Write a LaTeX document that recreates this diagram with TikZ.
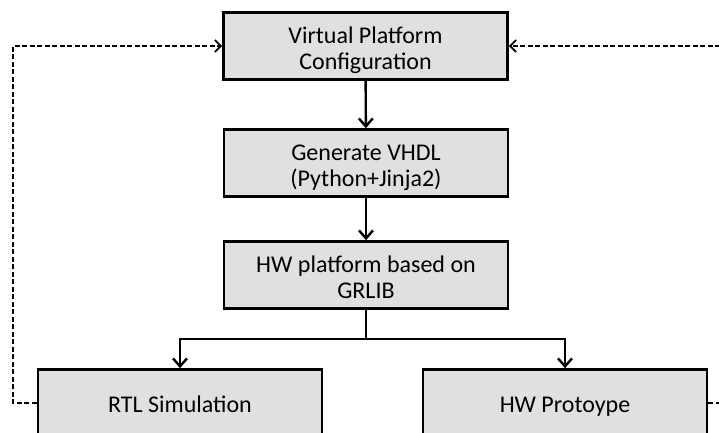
\documentclass[tikz,border=0pt]{standalone}
\usepackage{fontspec}
\setmainfont{Carlito}
\usetikzlibrary{arrows.meta}

\begin{document}
\begin{tikzpicture}[x=1pt,y=-1pt,
    box/.style={draw,line width=2.6pt,fill=black!12,minimum width=284pt,minimum height=67pt,align=center,font=\fontsize{24}{26.5}\selectfont,inner sep=0pt,text height=47pt,text depth=0pt},
    single/.style={text height=19.5pt,text depth=0pt},
    flow/.style={draw,line width=2.4pt,-{Straight Barb[length=8pt,width=14pt,line width=2.4pt]}},
    back/.style={draw,line width=2pt,dash pattern=on 5pt off 2.5pt,-{Straight Barb[length=6pt,width=12pt,line width=1.8pt]}}]
        \useasboundingbox (0,0) rectangle (719,432);
        \clip (0,0) rectangle (719,432);

        \node[box] (config) at (365.5,46) {Virtual Platform\\Configuration};
        \node[box] (gen) at (366,163) {Generate VHDL\\(Python+Jinja2)};
        \node[box] (grlib) at (366,275) {HW platform based on\\GRLIB};
        \node[box,single] (rtl) at (180,403) {RTL Simulation};
        \node[box,single] (proto) at (565,403) {HW Protoype};

        \coordinate (split) at (366,339);
        \coordinate (lcorner) at (13,403);
        \coordinate (rcorner) at (727,403);

        \draw[flow] (config) -- (gen);
        \draw[flow] (gen) -- (grlib);
        \draw[line width=2.4pt] (grlib) -- (split);
        \draw[flow] (split) -| (rtl);
        \draw[flow] (split) -| (proto);

        % feedback
        \draw[back] (rtl.west) -- (lcorner) |- (config.west);
        \draw[back] (proto.east) -- (rcorner) |- (config.east);
    \end{tikzpicture}
\end{document}
